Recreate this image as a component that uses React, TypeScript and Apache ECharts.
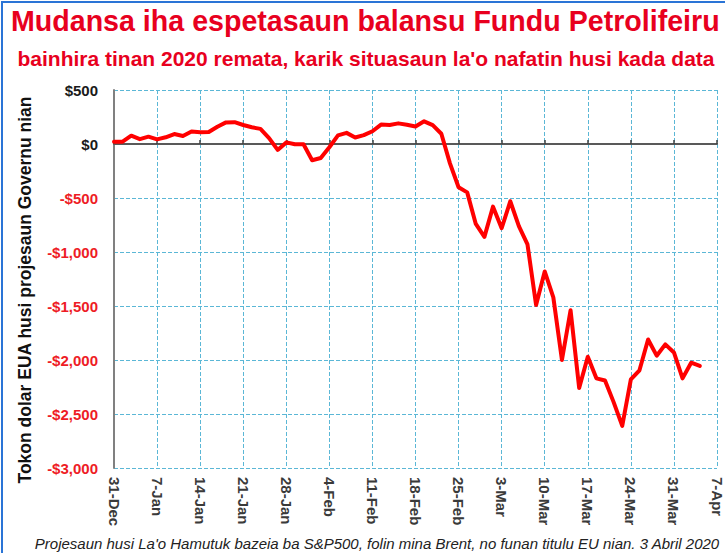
import React, { useEffect, useRef } from "react";
import * as echarts from "echarts";

// ---- data ----
const weekLabels = [
  "31-Dec", "7-Jan", "14-Jan", "21-Jan", "28-Jan", "4-Feb", "11-Feb", "18-Feb",
  "25-Feb", "3-Mar", "10-Mar", "17-Mar", "24-Mar", "31-Mar", "7-Apr",
];
const pointsPerWeek = 5; // trading days per labelled week

// projected fund balance change, million USD, one value per trading day from 31-Dec
const balance = [
  21, 21, 77, 45, 68, 43, 62, 92, 74, 115, 108, 111, 160, 200, 202, 176, 155, 140,
  55, -55, 15, -3, -3, -150, -130, -30, 80, 103, 60, 82, 118, 180, 176, 191, 178,
  162, 210, 175, 95, -179, -400, -448, -740, -860, -580, -780, -530, -760, -930,
  -1490, -1180, -1420, -2000, -1540, -2260, -1970, -2170, -2190, -2390, -2610,
  -2180, -2095, -1810, -1960, -1855, -1930, -2170, -2025, -2055,
];

const yTickValues = [-3000, -2500, -2000, -1500, -1000, -500, 0, 500];
const yTickLabels = ["-$3,000", "-$2,500", "-$2,000", "-$1,500", "-$1,000", "-$500", "$0", "$500"];

const titleText = "Mudansa iha espetasaun balansu Fundu Petrolifeiru";
const subtitleText = "bainhira tinan 2020 remata, karik situasaun la'o nafatin husi kada data";
const yAxisTitle = "Tokon dolar EUA husi projesaun Governu nian";
const footerText =
  "Projesaun husi La'o Hamutuk bazeia ba S&P500, folin mina Brent, no funan titulu EU nian. 3 Abril 2020";

const RED = "#ee1c25";
const GRID = "#5bb7d6";
const FONT = "'Liberation Sans', Arial, sans-serif";

export default function App() {
  const ref = useRef<HTMLDivElement>(null);

  useEffect(() => {
    if (!ref.current) return;
    const chart = echarts.init(ref.current, null, { renderer: "svg" });
    const xMax = (weekLabels.length - 1) * pointsPerWeek;
    chart.setOption({
      animation: false,
      backgroundColor: "#ffffff",
      grid: { left: 114, right: 8, top: 90, bottom: 85, containLabel: false },
      xAxis: [
        {
          type: "value",
          min: 0,
          max: xMax,
          interval: pointsPerWeek,
          position: "bottom",
          axisLine: { show: false, onZero: false },
          axisTick: { show: false },
          axisLabel: {
            rotate: -90,
            margin: 9,
            fontFamily: FONT,
            fontSize: 15,
            fontWeight: "bold",
            color: "#3a3a3a",
            formatter: (v: number) => weekLabels[Math.round(v / pointsPerWeek)] ?? "",
          },
          splitLine: { show: true, lineStyle: { color: GRID, type: "dashed", width: 1 } },
        },
        {
          type: "value",
          min: 0,
          max: xMax,
          interval: pointsPerWeek,
          position: "top",
          axisLine: { show: true, onZero: true, lineStyle: { color: "#595959", width: 2 } },
          axisTick: { show: true, length: 4, lineStyle: { color: "#404040", width: 1.5 } },
          axisLabel: { show: false },
          splitLine: { show: false },
        },
      ],
      yAxis: {
        type: "value",
        min: yTickValues[0],
        max: yTickValues[yTickValues.length - 1],
        interval: 500,
        axisLine: { show: true, lineStyle: { color: "#808080", width: 2 } },
        axisTick: { show: false },
        axisLabel: {
          margin: 16,
          fontFamily: FONT,
          fontSize: 15,
          fontWeight: "bold",
          color: (v: number) => (v < 0 ? RED : "#1a1a1a"),
          formatter: (v: number) => yTickLabels[yTickValues.indexOf(v)] ?? "",
        },
        splitLine: { show: true, lineStyle: { color: GRID, type: "dashed", width: 1 } },
      },
      series: [
        {
          type: "line",
          xAxisIndex: 0,
          data: balance.map((v, i) => [i, v]),
          symbol: "none",
          lineStyle: { color: "#ff0000", width: 4, join: "round", cap: "round" },
          z: 5,
        },
      ],
      graphic: [
        {
          type: "rect",
          shape: { x: 2, y: 2, width: 760, height: 620 },
          style: { fill: "none", stroke: "#2a74d6", lineWidth: 2 },
          silent: true,
        },
        {
          type: "text",
          x: 11,
          y: 21,
          style: {
            text: titleText,
            fontFamily: FONT,
            fontSize: 28.6,
            fontWeight: "bold",
            fill: "#e8001e",
            verticalAlign: "middle",
            align: "left",
          },
        },
        {
          type: "text",
          x: 366,
          y: 58,
          style: {
            text: subtitleText,
            fontFamily: FONT,
            fontSize: 21,
            fontWeight: "bold",
            fill: "#e8001e",
            verticalAlign: "middle",
            align: "center",
          },
        },
        {
          type: "text",
          x: 25,
          y: 290,
          rotation: Math.PI / 2,
          style: {
            text: yAxisTitle,
            fontFamily: FONT,
            fontSize: 17.5,
            fontWeight: "bold",
            fill: "#111111",
            verticalAlign: "middle",
            align: "center",
          },
        },
        {
          type: "text",
          x: 377,
          y: 543,
          style: {
            text: footerText,
            fontFamily: FONT,
            fontSize: 15,
            fontStyle: "italic",
            fill: "#222222",
            verticalAlign: "middle",
            align: "center",
          },
        },
      ],
    });
    return () => chart.dispose();
  }, []);

  return (
    <div
      ref={ref}
      style={{ position: "absolute", left: 0, top: 0, width: 725, height: 553, background: "#fff" }}
    />
  );
}
